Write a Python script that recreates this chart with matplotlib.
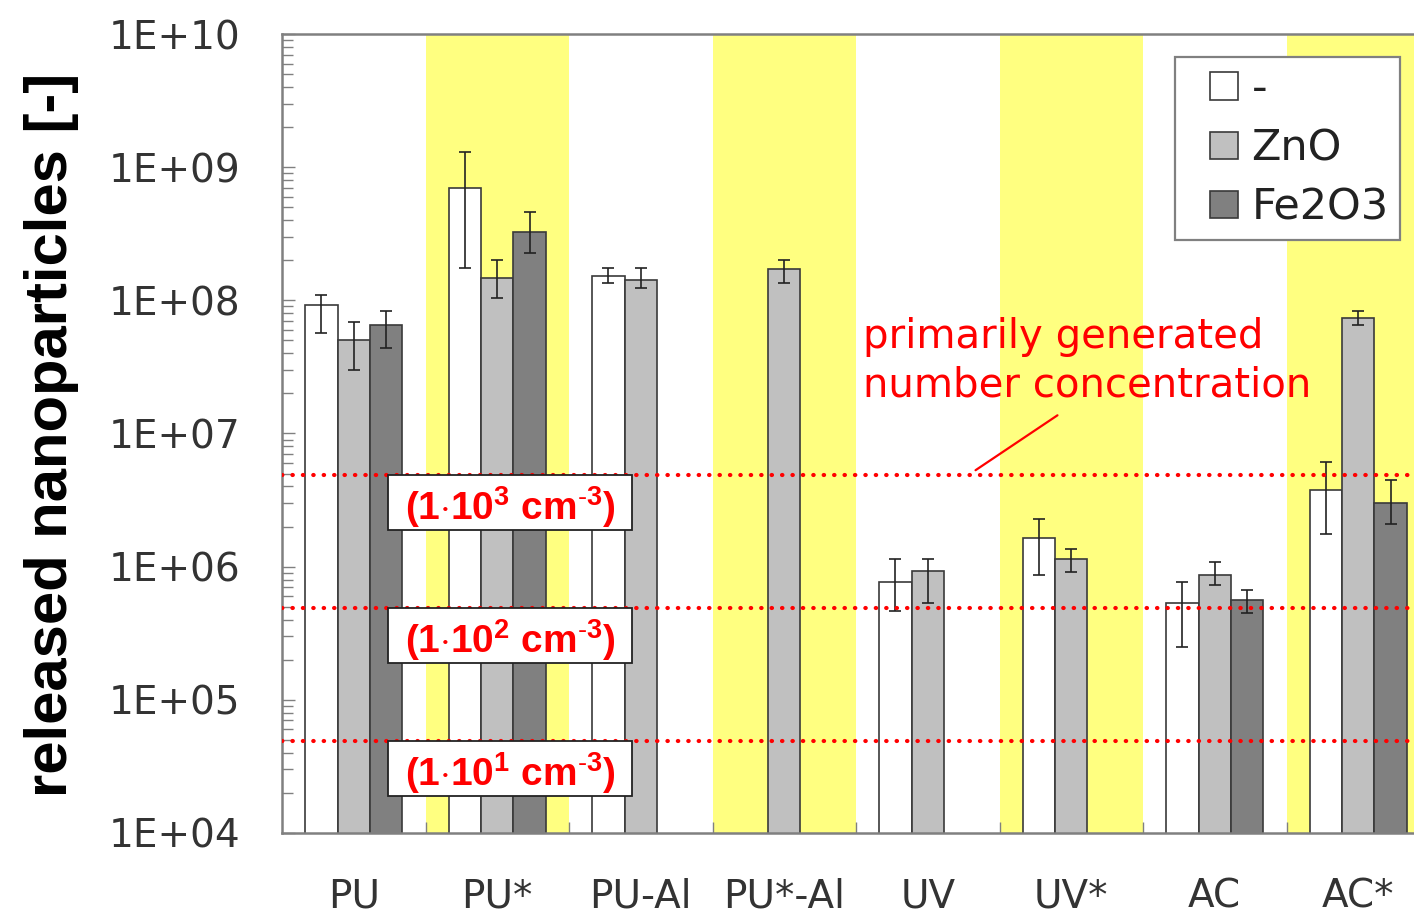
import numpy as np
import matplotlib
matplotlib.use('Agg')
import matplotlib.pyplot as plt
import matplotlib.patches as mpatches
from matplotlib.legend_handler import HandlerPatch
from matplotlib.ticker import LogLocator, NullFormatter

plt.rcParams['mathtext.fontset'] = 'custom'
plt.rcParams['mathtext.bf'] = 'Liberation Sans:bold'
plt.rcParams['mathtext.rm'] = 'Liberation Sans'
plt.rcParams['mathtext.it'] = 'Liberation Sans:italic'

# ---------------- data ----------------
categories = ['PU', 'PU*', 'PU-Al', 'PU*-Al', 'UV', 'UV*', 'AC', 'AC*']
series_names = ['-', 'ZnO', 'Fe2O3']
nan = np.nan

vals_none = [9.2e7, 6.95e8, 1.52e8, nan, 7.66e5, 1.64e6, 5.33e5, 3.76e6]
low_none = [5.67e7, 1.75e8, 1.35e8, nan, 4.64e5, 8.65e5, 2.49e5, 1.76e6]
high_none = [1.09e8, 1.3e9, 1.75e8, nan, 1.14e6, 2.28e6, 7.66e5, 6.1e6]

vals_zno = [5.0e7, 1.47e8, 1.42e8, 1.73e8, 9.27e5, 1.14e6, 8.65e5, 7.35e7]
low_zno = [2.99e7, 1.04e8, 1.24e8, 1.35e8, 5.33e5, 9.1e5, 7.28e5, 6.5e7]
high_zno = [6.86e7, 2.0e8, 1.75e8, 2.0e8, 1.14e6, 1.36e6, 1.08e6, 8.3e7]

vals_fe = [6.5e7, 3.25e8, nan, nan, nan, nan, 5.61e5, 3.0e6]
low_fe = [4.4e7, 2.26e8, nan, nan, nan, nan, 4.49e5, 2.09e6]
high_fe = [8.3e7, 4.6e8, nan, nan, nan, nan, 6.67e5, 4.47e6]

shaded_groups = [1, 3, 5, 7]

ref_values = [4.9e4, 4.9e5, 4.9e6]
ref_exponents = ['1', '2', '3']

ytick_values = [1e4, 1e5, 1e6, 1e7, 1e8, 1e9, 1e10]
ytick_labels = ['1E+04', '1E+05', '1E+06', '1E+07', '1E+08', '1E+09', '1E+10']

annotation_text = 'primarily generated\nnumber concentration'

# ---------------- styling ----------------
W, H = 1414, 914
fig = plt.figure(figsize=(W / 100, H / 100), dpi=100)
ax = fig.add_axes([282 / W, 81 / H, 1148 / W, 799 / H])
ax.set_yscale('log')
ax.set_xlim(-0.5, len(categories) - 0.5)
ax.set_ylim(1e4, 1e10)
px_per_decade = 799 / 6.0

yellow = '#FFFF80'
for g in shaded_groups:
    ax.axvspan(g - 0.5, g + 0.5, color=yellow, lw=0, zorder=0)

colors = ['white', '#C0C0C0', '#808080']
series = [(vals_none, low_none, high_none),
          (vals_zno, low_zno, high_zno),
          (vals_fe, low_fe, high_fe)]
bw = 0.225
x = np.arange(len(categories))
handles = []
for k, ((v, lo, hi), c) in enumerate(zip(series, colors)):
    v = np.array(v); lo = np.array(lo); hi = np.array(hi)
    xs = x + (k - 1) * bw
    ok = ~np.isnan(v)
    b = ax.bar(xs[ok], v[ok], bw, color=c, edgecolor='#3a3a3a', linewidth=1.2,
               zorder=2, label=series_names[k])
    handles.append(b[0])
    ax.errorbar(xs[ok], v[ok], yerr=[v[ok] - lo[ok], hi[ok] - v[ok]], fmt='none',
                ecolor='#222222', elinewidth=1.2, capsize=4, capthick=1.2, zorder=3)

# reference concentration lines with boxed labels
box_x0, box_x1 = 0.242, 1.936
box_h = 10 ** (-55 / px_per_decade)
for val, e in zip(ref_values, ref_exponents):
    ax.axhline(val, color='#FF0000', lw=3.0, linestyle=(0, (0.1, 2.4)),
               dash_capstyle='round', zorder=4)
    ax.add_patch(mpatches.Rectangle((box_x0, val * box_h), box_x1 - box_x0,
                                    val - val * box_h, fc='white', ec='#222222',
                                    lw=1.3, zorder=5))
    lab = r'$\mathbf{(1{\cdot}10^{%s}\ cm^{\text{-}3})}$' % e
    ax.text((box_x0 + box_x1) / 2, val * 10 ** (-32 / px_per_decade), lab,
            color='#FF0000', fontsize=28, ha='center', va='center', zorder=6)

ax.text(3.552, 3.49e7, annotation_text, color='#FF0000', fontsize=29,
        ha='left', va='center', linespacing=1.27, zorder=6)
ax.annotate('', xy=(4.333, 5.3e6), xytext=(4.904, 1.37e7),
            arrowprops=dict(arrowstyle='-', color='#FF0000', lw=1.6,
                            shrinkA=0, shrinkB=0), zorder=6)

# axes
ax.set_yticks(ytick_values)
ax.set_yticklabels(ytick_labels)
ax.yaxis.set_minor_locator(LogLocator(base=10, subs=np.arange(2, 10)))
ax.yaxis.set_minor_formatter(NullFormatter())
ax.tick_params(axis='y', which='major', direction='in', length=9, width=1,
               color='#808080', labelsize=28, pad=30, labelcolor='#333333')
ax.tick_params(axis='y', which='minor', direction='in', length=8, width=1,
               color='#808080')
ax.set_xticks(x)
ax.set_xticklabels(categories)
ax.set_xticks(np.arange(0.5, len(categories) - 0.5, 1), minor=True)
ax.tick_params(axis='x', which='major', length=0, labelsize=28, pad=32,
               labelcolor='#333333')
ax.tick_params(axis='x', which='minor', direction='in', length=8, width=1,
               color='#808080')
for s in ['left', 'bottom', 'top', 'right']:
    ax.spines[s].set_color('#808080')
    ax.spines[s].set_linewidth(1.8)

fig.text(52 / W, (H - 435) / H, 'released nanoparticles [-]', rotation=90,
         ha='center', va='center', fontsize=43, fontweight='bold',
         family=['Liberation Sans', 'DejaVu Sans'], color='black')


def square_patch(legend, orig_handle, xdescent, ydescent, width, height, fontsize):
    sq = height
    return mpatches.Rectangle((-xdescent + width - sq, -ydescent), sq, sq)


leg = ax.legend(handles, series_names, loc='upper right',
                bbox_to_anchor=(1400 / W, 1 - 57 / H), bbox_transform=fig.transFigure,
                fontsize=31, frameon=True, fancybox=False, edgecolor='#808080',
                framealpha=1, handlelength=1.2, handleheight=0.6,
                handletextpad=0.32, labelspacing=0.4, borderpad=0.26,
                borderaxespad=0,
                handler_map={mpatches.Rectangle: HandlerPatch(patch_func=square_patch)})
leg.get_frame().set_linewidth(1.6)
for t in leg.get_texts():
    t.set_color('#222222')
leg.set_zorder(10)

fig.savefig('out.png', dpi=100)
